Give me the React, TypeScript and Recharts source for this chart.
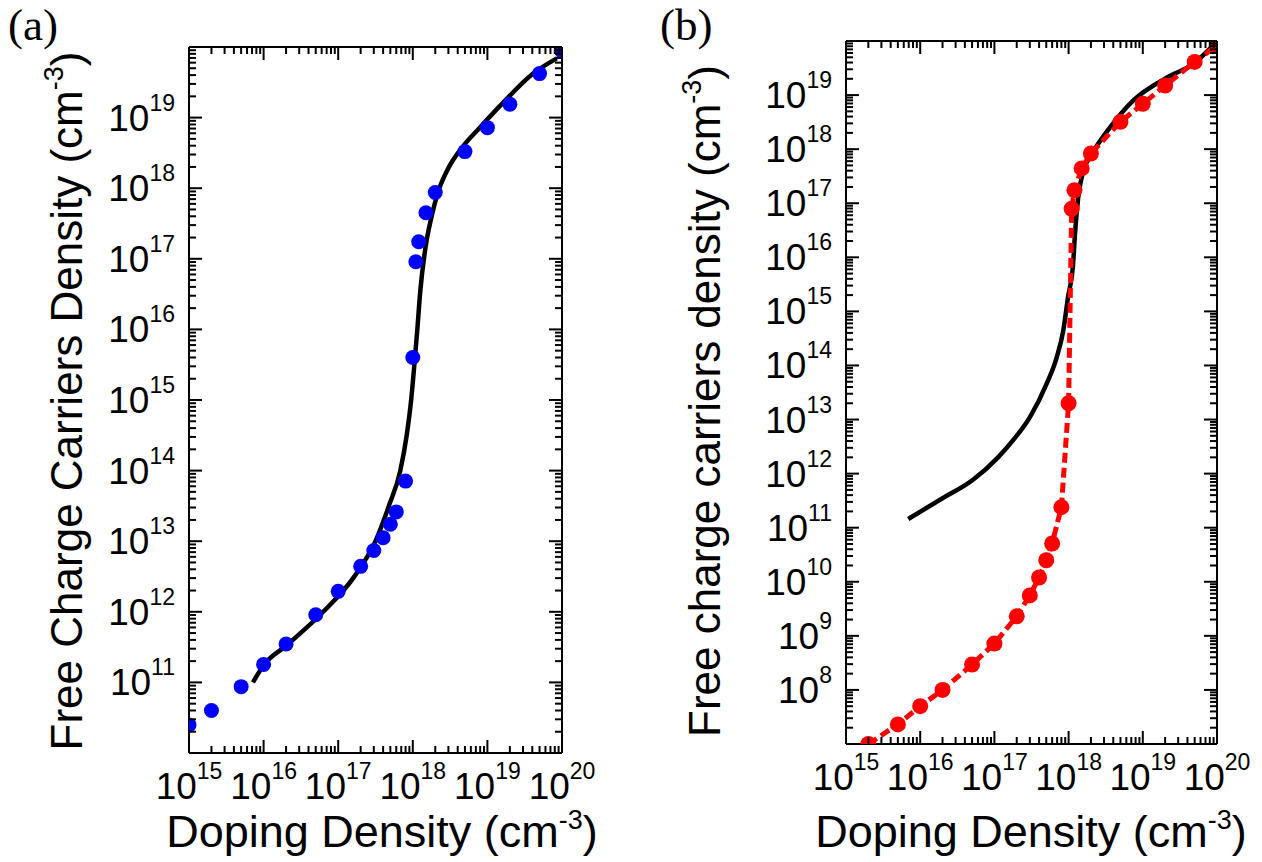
import React from 'react';
import { ComposedChart, Line, XAxis, YAxis, Label } from 'recharts';

// doping levels used for the symbols (cm^-3)
const dopingA = [1e15, 2e15, 5e15, 1e16, 2e16, 5e16, 1e17, 2e17, 3e17, 4e17, 5e17, 6e17, 8e17, 1e18, 1.1e18, 1.2e18, 1.5e18, 2e18, 5e18, 1e19, 2e19, 5e19, 1e20];
const carriersA = [2.5e10, 4.0e10, 8.7e10, 1.8e11, 3.5e11, 9.1e11, 1.95e12, 4.4e12, 7.4e12, 1.12e13, 1.74e13, 2.6e13, 7.1e13, 4.0e15, 9.1e16, 1.74e17, 4.5e17, 8.7e17, 3.3e18, 7.2e18, 1.55e19, 4.2e19, 8.7e19];

// black model curve, panel (a)
const curveAX = [7.2e15, 1e16, 2e16, 6.3e16, 1.66e17, 3.16e17, 4.8e17, 6.8e17, 8.3e17, 9.5e17, 1.05e18, 1.15e18, 1.26e18, 1.48e18, 1.78e18, 2.14e18, 2.9e18, 4.6e18, 7.9e18, 1.6e19, 4.1e19, 8.5e19];
const curveAY = [1.0e11, 1.75e11, 3.3e11, 1.0e12, 3.2e12, 1.0e13, 3.2e13, 1.0e14, 3.2e14, 1.0e15, 3.2e15, 1.0e16, 3.5e16, 1.45e17, 3.9e17, 8.3e17, 1.8e18, 3.8e18, 7.2e18, 1.6e19, 4.2e19, 6.9e19];

// red symbols + dashed line, panel (b)
const dopingB = [2e15, 5e15, 1e16, 2e16, 5e16, 1e17, 2e17, 3e17, 4e17, 5e17, 6e17, 8e17, 1e18, 1.1e18, 1.2e18, 1.5e18, 2e18, 5e18, 1e19, 2e19, 5e19, 1e20];
const carriersB = [1.0e7, 2.3e7, 5.0e7, 1.0e8, 2.95e8, 7.2e8, 2.3e9, 5.6e9, 1.2e10, 2.5e10, 5.1e10, 2.4e11, 2.0e13, 7.9e16, 1.74e17, 4.4e17, 8.3e17, 3.2e18, 6.9e18, 1.5e19, 4.1e19, 8.3e19];

// black model curve, panel (b)
const curveBX = [6.9e15, 2.0e16, 5.1e16, 1.12e17, 1.8e17, 3.0e17, 5.1e17, 6.9e17, 8.5e17, 9.8e17, 1.15e18, 1.23e18, 1.35e18, 1.58e18, 2.0e18, 3.6e18, 7.4e18, 2.1e19, 4.8e19, 8.9e19];
const curveBY = [1.45e11, 3.5e11, 7.6e11, 2.0e12, 4.2e12, 1.1e13, 4.7e13, 1.4e14, 4.5e14, 1.8e15, 7.6e15, 3.2e16, 1.3e17, 4.0e17, 7.6e17, 2.5e18, 7.9e18, 2.1e19, 3.8e19, 8.3e19];

// decade ranges and labelled exponents
const xDecades = [15, 20];
const yDecadesA = [10, 20];
const yDecadesB = [7, 20];
const xLabels = [15, 16, 17, 18, 19, 20];
const yLabelsA = [11, 12, 13, 14, 15, 16, 17, 18, 19];
const yLabelsB = [8, 9, 10, 11, 12, 13, 14, 15, 16, 17, 18, 19];

const FONT = '"Liberation Sans", Arial, sans-serif';
const SERIF = '"Liberation Serif", "Times New Roman", serif';

const zip = (xs: number[], ys: number[]) => xs.map((x, i) => ({ x, y: ys[i] }));

// 1..9 x 10^n ticks for a log axis
function logTicks([lo, hi]: number[]) {
  const out: number[] = [];
  for (let n = lo; n < hi; n++) {
    for (let k = 1; k <= 9; k++) out.push(k * 10 ** n);
  }
  out.push(10 ** hi);
  return out;
}

const isDecade = (v: number) => {
  const l = Math.log10(v);
  return Math.abs(l - Math.round(l)) < 1e-6;
};

type Side = 'left' | 'right' | 'top' | 'bottom';

function LogTick(props: any) {
  const { x, y, payload, side, labels } = props as {
    x: number; y: number; payload: { value: number }; side: Side; labels?: number[];
  };
  const v = payload.value;
  const major = isDecade(v);
  const len = major ? 13 : 7;
  let x2 = x;
  let y2 = y;
  if (side === 'left') x2 = x + len;
  if (side === 'right') x2 = x - len;
  if (side === 'bottom') y2 = y - len;
  if (side === 'top') y2 = y + len;
  const exp = Math.round(Math.log10(v));
  const show = major && labels && labels.includes(exp);

  return (
    <g>
      <line x1={x} y1={y} x2={x2} y2={y2} stroke="#000" strokeWidth={2} />
      {show && side === 'left' && (
        <text x={x - 14} y={y + 13} textAnchor="end" fontFamily={FONT} fontSize={37} fill="#000">
          10<tspan dy={-20} fontSize={23}>{exp}</tspan>
        </text>
      )}
      {show && side === 'bottom' && (
        <text x={x} y={y + 46} textAnchor="middle" fontFamily={FONT} fontSize={37} fill="#000">
          10<tspan dy={-20} fontSize={23}>{exp}</tspan>
        </text>
      )}
    </g>
  );
}

const axisLine = { stroke: '#000', strokeWidth: 2 };

interface PanelProps {
  width: number;
  margin: { top: number; right: number; bottom: number; left: number };
  yDecades: number[];
  yLabels: number[];
  letter: string;
  letterX: number;
  yTitle: string;
  yTitleX: number;
  yTitleMid: number;
  xTitleX: number;
  children: React.ReactNode;
}

function Panel({ width, margin, yDecades, yLabels, letter, letterX, yTitle, yTitleX, yTitleMid, xTitleX, children }: PanelProps) {
  const yDomain = [10 ** yDecades[0], 10 ** yDecades[1]];
  const xDomain = [10 ** xDecades[0], 10 ** xDecades[1]];
  const xt = logTicks(xDecades);
  const yt = logTicks(yDecades);
  const common = {
    type: 'number' as const,
    scale: 'log' as const,
    allowDataOverflow: true,
    tickSize: 0,
    tickMargin: 0,
    interval: 0 as const,
    axisLine,
    tickLine: false,
  };

  // axes are 1px thick; margins already account for that
  return (
    <ComposedChart width={width} height={862} margin={margin}>
      <XAxis
        {...common}
        dataKey="x"
        xAxisId={0}
        orientation="bottom"
        height={1}
        domain={xDomain}
        ticks={xt}
        tick={(p: any) => <LogTick {...p} side="bottom" labels={xLabels} />}
      >
        <Label
          content={() => (
            <text x={xTitleX} y={847} textAnchor="middle" fontFamily={FONT} fontSize={45} fill="#000">
              Doping Density (cm<tspan dy={-18} fontSize={27}>-3</tspan>
              <tspan dy={18}>)</tspan>
            </text>
          )}
        />
      </XAxis>
      <XAxis
        {...common}
        dataKey="x"
        xAxisId="top"
        orientation="top"
        height={1}
        domain={xDomain}
        ticks={xt}
        tick={(p: any) => <LogTick {...p} side="top" />}
      >
        <Label
          content={() => (
            <text x={letterX} y={40} fontFamily={SERIF} fontSize={45} fill="#000">
              {letter}
            </text>
          )}
        />
      </XAxis>
      <YAxis
        {...common}
        yAxisId={0}
        orientation="left"
        width={1}
        domain={yDomain}
        ticks={yt}
        tick={(p: any) => <LogTick {...p} side="left" labels={yLabels} />}
      >
        <Label
          content={() => (
            <text
              x={yTitleX}
              y={yTitleMid}
              transform={`rotate(-90, ${yTitleX}, ${yTitleMid})`}
              textAnchor="middle"
              fontFamily={FONT}
              fontSize={44}
              fill="#000"
            >
              {yTitle} (cm<tspan dy={-19} fontSize={27}>-3</tspan>
              <tspan dy={19}>)</tspan>
            </text>
          )}
        />
      </YAxis>
      <YAxis
        {...common}
        yAxisId="right"
        orientation="right"
        width={1}
        domain={yDomain}
        ticks={yt}
        tick={(p: any) => <LogTick {...p} side="right" />}
      />
      {children}
    </ComposedChart>
  );
}

export default function App() {
  return (
    <div style={{ position: 'absolute', left: 0, top: 0, width: 1262, height: 862, background: '#fff' }}>
      <div style={{ position: 'absolute', left: 0, top: 0 }}>
        <Panel
          width={640}
          margin={{ top: 46, right: 77, bottom: 108, left: 188 }}
          yDecades={yDecadesA}
          yLabels={yLabelsA}
          letter="(a)"
          letterX={8}
          yTitle="Free Charge Carriers Density"
          yTitleX={82}
          yTitleMid={401}
          xTitleX={382}
        >
          <Line
            data={zip(curveAX, curveAY)}
            dataKey="y"
            type="monotone"
            stroke="#000"
            strokeWidth={4.5}
            dot={false}
            activeDot={false}
            isAnimationActive={false}
          />
          <Line
            data={zip(dopingA, carriersA)}
            dataKey="y"
            stroke="none"
            dot={{ r: 7.5, fill: '#0000ff', stroke: 'none' }}
            activeDot={false}
            isAnimationActive={false}
          />
        </Panel>
      </div>
      <div style={{ position: 'absolute', left: 640, top: 0 }}>
        <Panel
          width={622}
          margin={{ top: 40, right: 44, bottom: 117, left: 205 }}
          yDecades={yDecadesB}
          yLabels={yLabelsB}
          letter="(b)"
          letterX={20}
          yTitle="Free charge carriers density"
          yTitleX={80}
          yTitleMid={401}
          xTitleX={391}
        >
          <Line
            data={zip(curveBX, curveBY)}
            dataKey="y"
            type="monotone"
            stroke="#000"
            strokeWidth={4.5}
            dot={false}
            activeDot={false}
            isAnimationActive={false}
          />
          <Line
            data={zip(dopingB, carriersB)}
            dataKey="y"
            type="linear"
            stroke="#ff0000"
            strokeWidth={5}
            strokeDasharray="10 5"
            dot={{ r: 8, fill: '#ff0000', stroke: 'none' }}
            activeDot={false}
            isAnimationActive={false}
          />
        </Panel>
      </div>
    </div>
  );
}
